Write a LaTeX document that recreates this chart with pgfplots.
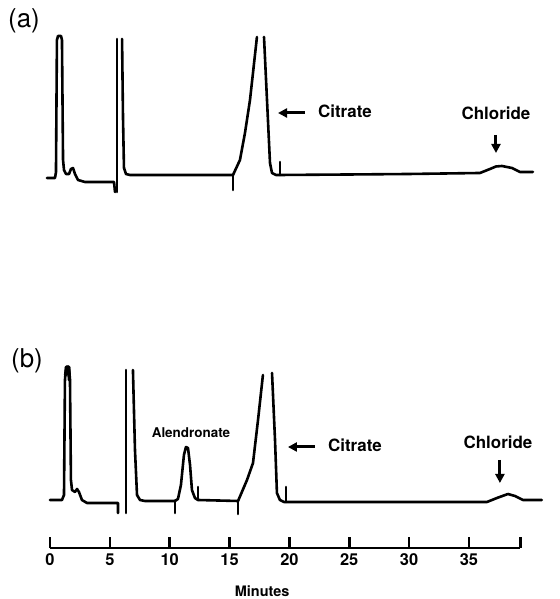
\documentclass[border=0pt]{standalone}
\usepackage{fontspec}
\setmainfont{TeX Gyre Heros}
\usepackage{pgfplots}
\pgfplotsset{compat=1.18}
\usetikzlibrary{arrows.meta}

\tikzset{
  trace/.style={black, line width=2.6bp, line join=round, line cap=round},
  pointer/.style={black, line width=3bp, -{Triangle[length=9bp,width=9bp]}},
}
\newcommand{\lbl}{\bfseries\fontsize{17}{17}\selectfont}

\begin{document}
\begin{tikzpicture}
\useasboundingbox (0,0) rectangle (560bp,599bp);

% ---- trace (a) ----
\begin{axis}[at={(0,0)}, anchor=south west, scale only axis,
  width=560bp, height=599bp,
  xmin=-4.177, xmax=42.61, ymin=-421, ymax=178,
  hide axis, clip=false]
\addplot[trace] coordinates {(-0.25,0) (0.42,0) (0.50,6) (0.58,138) (0.67,142) (0.92,142)
  (1.00,138) (1.09,18) (1.17,8) (1.34,4) (1.59,4) (1.75,9) (1.92,10) (2.09,4) (2.34,-2)
  (2.92,-4) (5.35,-4) (5.43,-14)};
\addplot[trace] coordinates {(5.60,-14) (5.60,139)};
\addplot[trace] coordinates {(6.02,139) (6.10,60) (6.18,10) (6.35,4) (6.68,3) (15.29,3)};
\addplot[trace] coordinates {(15.29,3) (15.29,-12)};
\addplot[trace] coordinates {(15.29,3) (15.87,18) (16.29,45) (16.71,78) (17.29,141)};
\addplot[trace] coordinates {(17.88,141) (18.38,15) (18.55,5) (18.88,3) (19.21,3)
  (25,3.5) (30,4) (35.92,5) (36.76,9) (37.26,11.5) (37.76,12) (38.6,10) (39.26,6) (40.35,6)};
\addplot[trace] coordinates {(19.21,3) (19.21,16)};
\node[font=\fontsize{26}{26}\selectfont] at (axis cs:-2.17,157) {(a)};
\node[font=\lbl] at (axis cs:24.64,67) {Citrate};
\draw[pointer] (axis cs:21.30,65) -- (axis cs:19.05,65);
\node[font=\lbl] at (axis cs:37.26,65) {Chloride};
\draw[pointer] (axis cs:37.26,43) -- (axis cs:37.26,25);
\end{axis}

% ---- trace (b) ----
\begin{axis}[at={(0,0)}, anchor=south west, scale only axis,
  width=560bp, height=599bp,
  xmin=-4.177, xmax=42.61, ymin=-99, ymax=500,
  hide axis, clip=false]
\addplot[trace] coordinates {(0.00,0) (1.00,0) (1.17,5) (1.25,120) (1.34,133) (1.59,133)
  (1.67,120) (1.75,20) (1.84,10) (2.09,8) (2.26,11) (2.42,8) (2.67,0) (3.09,-3)
  (5.68,-3) (5.68,-13)};
\addplot[trace, line width=3.4bp] coordinates {(1.30,125) (1.40,133) (1.55,133) (1.62,120)};
\addplot[trace] coordinates {(6.35,-13) (6.35,130)};
\addplot[trace] coordinates {(6.93,130) (7.10,50) (7.27,5) (7.52,0) (7.94,-1) (10.44,-1)};
\addplot[trace] coordinates {(10.44,-1) (10.44,-13)};
\addplot[trace] coordinates {(10.44,-1) (10.69,1) (10.94,15) (11.19,45) (11.36,53)
  (11.53,52) (11.70,35) (11.86,10) (12.11,2) (12.36,0) (15.71,-1)};
\addplot[trace] coordinates {(12.36,0) (12.36,13)};
\addplot[trace] coordinates {(15.71,-1) (15.71,-14)};
\addplot[trace] coordinates {(15.71,-1) (16.46,20) (16.96,37) (17.38,80) (17.79,125)};
\addplot[trace] coordinates {(18.55,127) (18.80,60) (18.96,7) (19.21,0) (19.55,-2)
  (36.51,-2) (37.34,2) (38.26,6) (38.85,4) (39.52,0) (41.10,0)};
\addplot[trace] coordinates {(19.72,-2) (19.72,13)};
\node[font=\fontsize{26}{26}\selectfont] at (axis cs:-1.92,139) {(b)};
\node[font=\bfseries\fontsize{13.5}{13.5}\selectfont] at (axis cs:11.78,67) {Alendronate};
\node[font=\lbl] at (axis cs:25.48,55) {Citrate};
\draw[pointer] (axis cs:22.14,53) -- (axis cs:19.88,53);
\node[font=\lbl] at (axis cs:37.43,58) {Chloride};
\draw[pointer] (axis cs:37.59,40) -- (axis cs:37.59,17);
\end{axis}

% ---- time axis ----
\begin{axis}[at={(50bp,51bp)}, anchor=south west, scale only axis,
  width=470.4bp, height=20bp,
  xmin=0, xmax=39.3, ymin=0, ymax=1,
  axis x line=bottom, hide y axis,
  axis line style={-, line width=2.8bp},
  xtick={0,5,...,35}, extra x ticks={39.3}, extra x tick labels={},
  xtick align=inside, major tick length=11bp,
  tick style={black, line width=2.6bp},
  /pgf/number format/assume math mode=true,
  xticklabel style={font=\bfseries\fontsize{16.5}{16.5}\selectfont, yshift=-2bp},
  xlabel={Minutes},
  xlabel style={font=\bfseries\fontsize{14.5}{14.5}\selectfont,
    at={(ticklabel cs:0.451)}, anchor=north, yshift=-13bp}]
\addplot[draw=none] coordinates {(0,0) (39.3,1)};
\end{axis}
\end{tikzpicture}
\end{document}
